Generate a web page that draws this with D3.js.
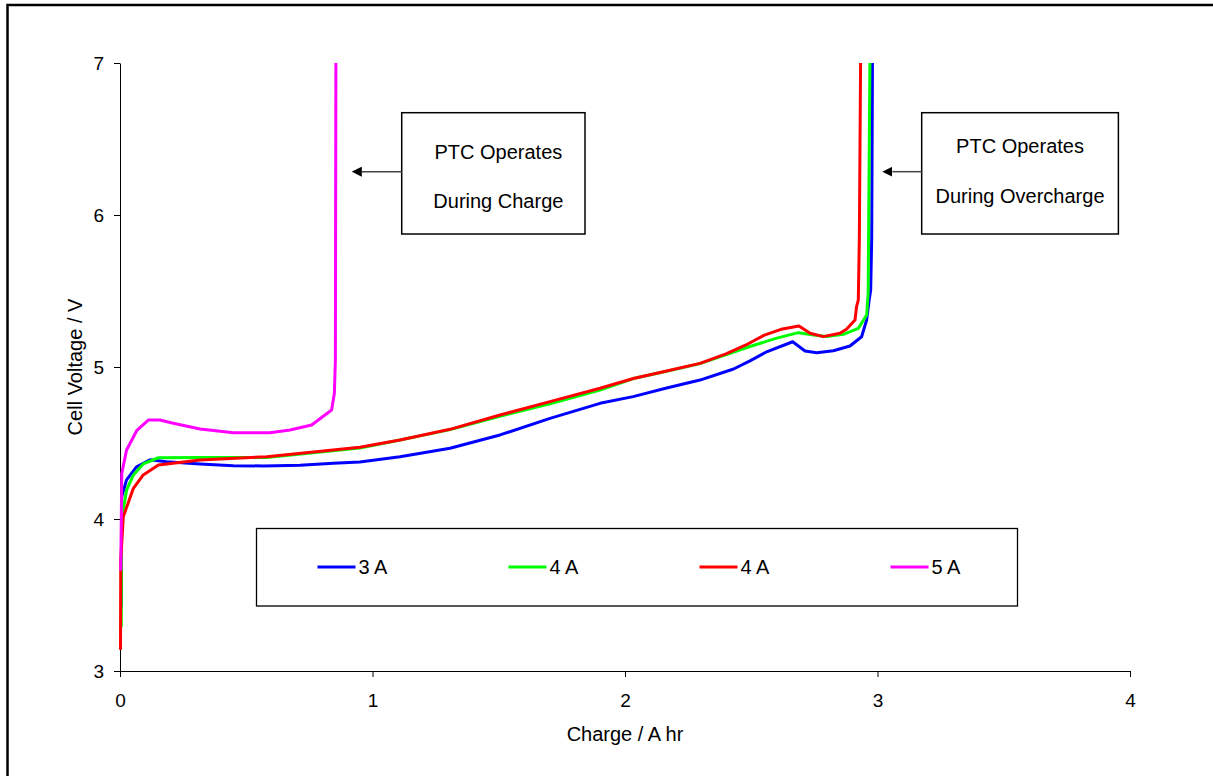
<!DOCTYPE html>
<html>
<head>
<meta charset="utf-8">
<script src="https://cdn.jsdelivr.net/npm/d3@7"></script>
<style>
  html, body { margin: 0; padding: 0; background: #fff; }
  svg { display: block; }
  text { font-family: "Liberation Sans", Arial, sans-serif; fill: #000; }
</style>
</head>
<body>
<svg id="chart" width="1213" height="776"></svg>
<script>
// Charge (A hr) vs cell voltage (V) for each charging current
const current3A = [
  [0.006, 3.42], [0.006, 3.99], [0.007, 4.147], [0.026, 4.257], [0.066, 4.344],
  [0.119, 4.39], [0.185, 4.377], [0.317, 4.362], [0.449, 4.351], [0.568, 4.349],
  [0.713, 4.353], [0.845, 4.366], [0.95, 4.375], [1.109, 4.41], [1.307, 4.465],
  [1.505, 4.553], [1.703, 4.662], [1.901, 4.761], [2.032, 4.805], [2.165, 4.862],
  [2.297, 4.914], [2.43, 4.987], [2.495, 5.04], [2.561, 5.10], [2.664, 5.166],
  [2.713, 5.105], [2.759, 5.094], [2.825, 5.107], [2.891, 5.138], [2.937, 5.199],
  [2.957, 5.309], [2.967, 5.44], [2.973, 5.507], [2.977, 5.84], [2.98, 7.0]
];
const current4A_a = [
  [0.005, 3.29], [0.006, 3.99], [0.026, 4.19], [0.053, 4.29], [0.092, 4.362],
  [0.152, 4.403], [0.317, 4.405], [0.581, 4.405], [0.95, 4.467], [1.109, 4.52],
  [1.307, 4.588], [1.505, 4.676], [1.703, 4.758], [1.901, 4.848], [2.033, 4.924],
  [2.165, 4.972], [2.297, 5.022], [2.39, 5.075], [2.495, 5.135], [2.601, 5.19],
  [2.687, 5.226], [2.747, 5.211], [2.799, 5.2], [2.865, 5.215], [2.924, 5.254],
  [2.957, 5.342], [2.963, 5.485], [2.97, 7.0]
];
const current4A_b = [
  [0.002, 3.14], [0.003, 3.73], [0.013, 4.015], [0.053, 4.202], [0.092, 4.29],
  [0.152, 4.355], [0.317, 4.388], [0.581, 4.41], [0.95, 4.472], [1.109, 4.52],
  [1.307, 4.59], [1.505, 4.684], [1.703, 4.772], [1.901, 4.86], [2.033, 4.924],
  [2.165, 4.974], [2.297, 5.024], [2.40, 5.086], [2.479, 5.145], [2.552, 5.21],
  [2.618, 5.248], [2.689, 5.27], [2.733, 5.222], [2.785, 5.2], [2.851, 5.222],
  [2.877, 5.248], [2.911, 5.309], [2.917, 5.397], [2.924, 5.44], [2.928, 5.836],
  [2.933, 7.0]
];
const current5A = [
  [0.003, 3.66], [0.007, 4.30], [0.026, 4.454], [0.066, 4.581], [0.112, 4.651],
  [0.158, 4.651], [0.211, 4.63], [0.317, 4.592], [0.449, 4.568], [0.594, 4.568],
  [0.673, 4.586], [0.759, 4.618], [0.838, 4.717], [0.849, 4.827], [0.853, 5.046],
  [0.855, 7.0]
];

const seriesNames = ["3 A", "4 A", "4 A", "5 A"];
const seriesColors = ["#0000ff", "#00ff00", "#ff0000", "#ff00ff"];
const seriesData = [current3A, current4A_a, current4A_b, current5A];

const xTicks = [0, 1, 2, 3, 4];
const yTicks = [3, 4, 5, 6, 7];

const xTitle = "Charge / A hr";
const yTitle = "Cell Voltage / V";

// Callout boxes: [x0, x1, yTop, yBottom] in data units, arrow tip x, arrow y
const notes = [
  { lines: ["PTC Operates", "During Charge"], box: [1.1157, 1.8416, 6.673, 5.875], tip: 0.918, arrowY: 6.285, shift: 5, dy: [46, 95] },
  { lines: ["PTC Operates", "During Overcharge"], box: [3.175, 3.954, 6.673, 5.875], tip: 3.019, arrowY: 6.285, shift: 0, dy: [40, 90] }
];

const svg = d3.select("#chart");
const W = 1213, H = 776;
const plot = { left: 120, right: 1130, top: 63, bottom: 671 };

const x = d3.scaleLinear().domain([0, 4]).range([plot.left, plot.right]);
const y = d3.scaleLinear().domain([3, 7]).range([plot.bottom, plot.top]);

// outer frame
svg.append("rect")
  .attr("x", 7.5).attr("y", 5)
  .attr("width", W + 20).attr("height", H + 20)
  .attr("fill", "none").attr("stroke", "#000").attr("stroke-width", 2.5);

// axes
const xAxis = svg.append("g")
  .attr("transform", `translate(0,${plot.bottom})`)
  .call(d3.axisBottom(x).tickValues(xTicks).tickFormat(d3.format("d"))
    .tickSizeInner(6).tickSizeOuter(0).tickPadding(17));
const yAxis = svg.append("g")
  .attr("transform", `translate(${plot.left},0)`)
  .call(d3.axisLeft(y).tickValues(yTicks).tickFormat(d3.format("d"))
    .tickSizeInner(6).tickSizeOuter(0).tickPadding(10));
[xAxis, yAxis].forEach(g => {
  g.selectAll("path, line").attr("stroke", "#000").attr("stroke-width", 1);
  g.selectAll("text").attr("font-size", 19).attr("fill", "#000")
    .style("font-family", "'Liberation Sans', Arial, sans-serif");
});

// axis titles
svg.append("text")
  .attr("x", (plot.left + plot.right) / 2).attr("y", 741)
  .attr("text-anchor", "middle").attr("font-size", 20)
  .text(xTitle);
svg.append("text")
  .attr("transform", `translate(82,${(plot.top + plot.bottom) / 2}) rotate(-90)`)
  .attr("text-anchor", "middle").attr("font-size", 20)
  .text(yTitle);

// data lines
const line = d3.line().x(d => x(d[0])).y(d => y(d[1]));
seriesData.forEach((data, i) => {
  svg.append("path")
    .datum(data)
    .attr("d", line)
    .attr("fill", "none")
    .attr("stroke", seriesColors[i])
    .attr("stroke-width", 3)
    .attr("stroke-linejoin", "round");
});

// legend
const legend = svg.append("g");
legend.append("rect")
  .attr("x", 256.5).attr("y", 528.5).attr("width", 761).attr("height", 77.5)
  .attr("fill", "#fff").attr("stroke", "#000").attr("stroke-width", 1.3);
seriesNames.forEach((name, i) => {
  const lx = 317.5 + i * 191;
  legend.append("line")
    .attr("x1", lx).attr("x2", lx + 38)
    .attr("y1", 567).attr("y2", 567)
    .attr("stroke", seriesColors[i]).attr("stroke-width", 3);
  legend.append("text")
    .attr("x", lx + 41).attr("y", 574)
    .attr("font-size", 20)
    .text(name);
});

// callouts
const defs = svg.append("defs");
defs.append("marker")
  .attr("id", "arrowHead")
  .attr("viewBox", "0 0 10 10")
  .attr("refX", 0).attr("refY", 5)
  .attr("markerWidth", 10).attr("markerHeight", 10)
  .attr("markerUnits", "userSpaceOnUse")
  .attr("orient", "auto-start-reverse")
  .append("path").attr("d", "M0,0 L10,5 L0,10 Z").attr("fill", "#000");

notes.forEach(n => {
  const bx0 = x(n.box[0]), bx1 = x(n.box[1]);
  const by0 = y(n.box[2]), by1 = y(n.box[3]);
  svg.append("rect")
    .attr("x", bx0).attr("y", by0)
    .attr("width", bx1 - bx0).attr("height", by1 - by0)
    .attr("fill", "#fff").attr("stroke", "#000").attr("stroke-width", 1.5);
  svg.append("line")
    .attr("x1", bx0).attr("x2", x(n.tip) + 10)
    .attr("y1", y(n.arrowY)).attr("y2", y(n.arrowY))
    .attr("stroke", "#444").attr("stroke-width", 1.5)
    .attr("marker-end", "url(#arrowHead)");
  const cx = (bx0 + bx1) / 2 + n.shift;
  n.lines.forEach((t, k) => {
    svg.append("text")
      .attr("x", cx).attr("y", by0 + n.dy[k])
      .attr("text-anchor", "middle").attr("font-size", 20)
      .text(t);
  });
});
</script>
</body>
</html>
